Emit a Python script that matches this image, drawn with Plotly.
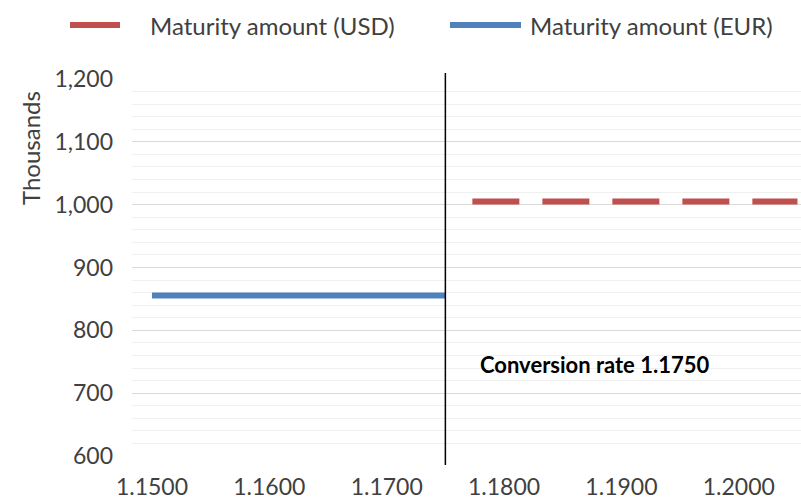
import plotly.graph_objects as go

# Exchange-rate axis (USD per EUR) and maturity amounts in thousands
conversion_rate = 1.1750
eur_rates = [1.1500, 1.1750]
eur_amounts = [855.3, 855.3]
usd_rates = [1.1773, 1.2050]
usd_amounts = [1005.0, 1005.0]

x_ticks = [1.15, 1.16, 1.17, 1.18, 1.19, 1.20]
x_tick_labels = ["1.1500", "1.1600", "1.1700", "1.1800", "1.1900", "1.2000"]

series_names = ["Maturity amount (USD)", "Maturity amount (EUR)"]

RED = "#C0504D"
BLUE = "#4F81BD"
FONT = "Lato, 'Open Sans', sans-serif"
TEXT = "#404040"

# Plot-area geometry in pixels, used to convert positions to paper units
W, H = 801, 503
L, R, T, B = 132, 0, 79, 47
PW, PH = W - L - R, H - T - B


def px_x(x):
    return (x - L) / PW


def px_y(y):
    return 1 - (y - T) / PH


fig = go.Figure()
fig.add_trace(go.Scatter(
    x=usd_rates, y=usd_amounts, mode="lines", name=series_names[0],
    line=dict(color=RED, width=6, dash="47px,23px"), showlegend=False,
))
fig.add_trace(go.Scatter(
    x=eur_rates, y=eur_amounts, mode="lines", name=series_names[1],
    line=dict(color=BLUE, width=6), showlegend=False,
))

# Vertical marker at the conversion rate
fig.add_shape(
    type="line", xref="x", yref="paper",
    x0=conversion_rate, x1=conversion_rate, y0=px_y(465), y1=px_y(73),
    line=dict(color="black", width=1.5), layer="above",
)
fig.add_annotation(
    x=1.1778, y=746, xref="x", yref="y", xanchor="left", yanchor="middle",
    text="<b>Conversion rate %.4f</b>" % conversion_rate, showarrow=False,
    font=dict(family=FONT, size=22, color="black"),
)

# Y-axis caption
fig.add_annotation(
    x=px_x(30), y=px_y(148), xref="paper", yref="paper", text="Thousands",
    showarrow=False, textangle=-90, xanchor="center", yanchor="middle",
    font=dict(family=FONT, size=24, color=TEXT),
)

# Legend row across the top
legend_items = [
    (series_names[0], RED, 70, 120, 148),
    (series_names[1], BLUE, 450, 521, 528),
]
for name, color, x0, x1, tx in legend_items:
    fig.add_shape(
        type="line", xref="paper", yref="paper",
        x0=px_x(x0), x1=px_x(x1), y0=px_y(25), y1=px_y(25),
        line=dict(color=color, width=6),
    )
    fig.add_annotation(
        x=px_x(tx), y=px_y(25), xref="paper", yref="paper", text=name,
        showarrow=False, xanchor="left", yanchor="middle",
        font=dict(family=FONT, size=24, color=TEXT),
    )

fig.update_layout(
    width=W, height=H,
    margin=dict(l=L, r=R, t=T, b=B),
    paper_bgcolor="white", plot_bgcolor="white",
    font=dict(family=FONT, size=23, color=TEXT),
    showlegend=False,
    xaxis=dict(
        range=[1.1483, 1.2053], tickvals=x_ticks, ticktext=x_tick_labels,
        showgrid=False, zeroline=False, showline=False, ticks="",
        ticklabelstandoff=15,
        tickfont=dict(family=FONT, size=23, color=TEXT),
    ),
    yaxis=dict(
        range=[600, 1200], dtick=100, tickformat=",",
        showgrid=True, gridcolor="#D9D9D9", gridwidth=1,
        minor=dict(dtick=20, showgrid=True, gridcolor="#F0F0F0", gridwidth=1),
        zeroline=False, showline=False, ticks="",
        ticklabelstandoff=18,
        tickfont=dict(family=FONT, size=23, color=TEXT),
    ),
)

fig.write_html("out.html")
